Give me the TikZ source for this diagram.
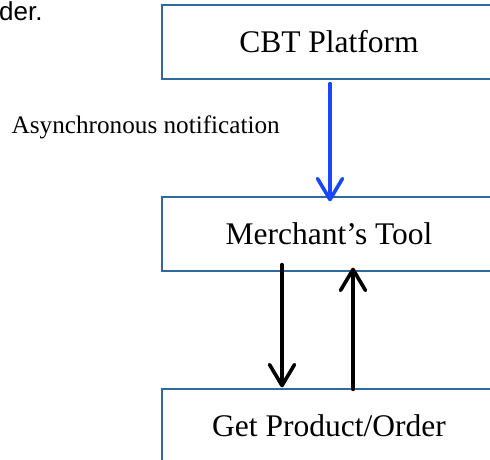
\documentclass[tikz,border=0pt]{standalone}
\usepackage{fontspec}
\setmainfont{Liberation Serif}
\newfontfamily\arialfont{Liberation Sans}
\usetikzlibrary{arrows.meta,positioning}
\definecolor{boxframe}{RGB}{47,106,159}
\definecolor{notifyblue}{RGB}{25,70,255}
\newcommand\colorFrame{boxframe}
\newcommand\colorNotify{notifyblue}
\newcommand\boxWidth{334pt}
\newcommand\boxHeight{74pt}
\tikzset{
	stagebox/.style={draw=\colorFrame, line width=1.3pt, rectangle,
		minimum width=\boxWidth, minimum height=\boxHeight, inner sep=0pt,
		font=\fontsize{31.5}{36}\selectfont},
	flow/.style={line width=3.6pt, line cap=round,
		-{Straight Barb[length=21pt, width=25pt, line width=3.6pt, round]}}
}

\begin{document}
\begin{tikzpicture}[x=1pt, y=-1pt]
		\clip (0,0) rectangle (490,460);
		\useasboundingbox (0,0) rectangle (490,460);
		
		\node[anchor=base west, inner sep=0pt, font=\arialfont\fontsize{26}{30}\selectfont] (prev) at (-1,21) {der.};
		
		\node[stagebox] (cbt) at (329,42) {CBT Platform};
		\node[stagebox] (tool) at (329,234) {Merchant’s Tool};
		\node[stagebox] (order) at (329,426) {Get Product/Order};
		
		\draw[flow, color=\colorNotify, shorten <=4pt, shorten >=-5pt]
			([xshift=1pt]cbt.south) to ([xshift=1pt]tool.north);
		\node[anchor=east, inner sep=0pt, font=\fontsize{25.2}{29}\selectfont] (async) at (280,127) {Asynchronous notification};
		
		\draw[flow, color=black, shorten <=-7pt, shorten >=1pt]
			([xshift=-47pt]tool.south) to ([xshift=-47pt]order.north);
		\draw[flow, color=black, shorten <=-1pt, shorten >=-4pt]
			([xshift=24pt]order.north) to ([xshift=24pt]tool.south);
	\end{tikzpicture}
\end{document}
